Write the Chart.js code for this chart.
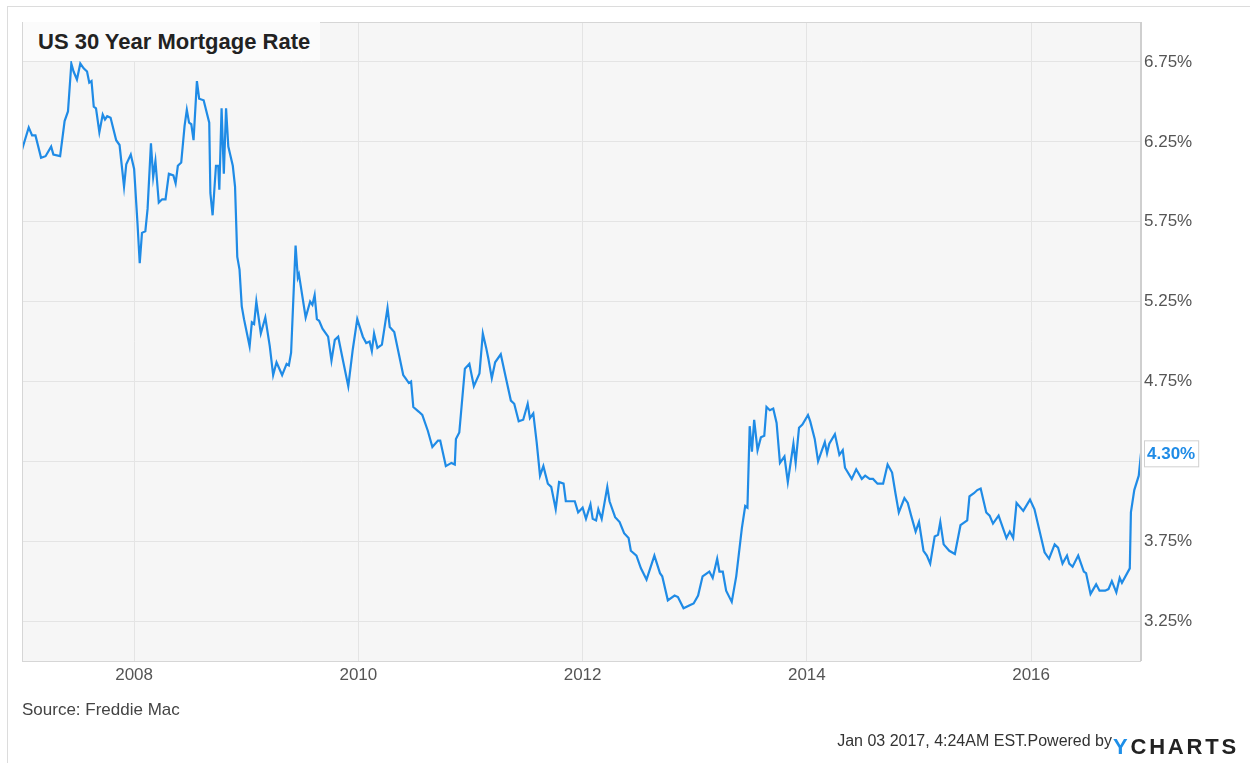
<!DOCTYPE html>
<html>
<head>
<meta charset="utf-8">
<script src="https://cdn.jsdelivr.net/npm/chart.js@4.4.1/dist/chart.umd.min.js"></script>
<style>
  body { margin: 0; background: #fff; font-family: "Liberation Sans", Arial, sans-serif; }
  #wrap { position: relative; width: 1250px; height: 763px; overflow: hidden; }
  #frame { position: absolute; left: 7px; top: 6px; right: 0; bottom: 0; border-top: 1px solid #dcdcdc; border-left: 1px solid #dcdcdc; }
  #myChart { position: absolute; left: 0; top: 0; }
  .title { position: absolute; left: 23px; top: 22px; width: 297px; height: 39px; background: #fbfbfb;
           font-weight: bold; font-size: 22px; color: #222; line-height: 39px; padding-left: 15px; box-sizing: border-box; }
  .source { position: absolute; left: 22px; top: 700px; font-size: 17px; color: #444; }
  .stamp { position: absolute; right: 138px; top: 732px; font-size: 16px; color: #333; }
  .logo { position: absolute; left: 1113px; top: 734px; font-size: 22px; font-weight: bold; color: #222; letter-spacing: 2.8px; }
  .logo span { color: #1e8fe8; }
</style>
</head>
<body>
<div id="wrap">
  <div id="frame"></div>
  <canvas id="myChart" width="1250" height="763"></canvas>
  <div class="title">US 30 Year Mortgage Rate</div>
  <div class="source">Source: Freddie Mac</div>
  <div class="stamp">Jan 03 2017, 4:24AM EST.Powered by</div>
  <div class="logo"><span>Y</span>CHARTS</div>
</div>
<script>
// weekly-ish readings, as decimal years
const dateYears = [
  2007.00, 2007.06, 2007.09, 2007.12, 2007.17, 2007.21, 2007.26, 2007.28, 2007.34, 2007.38,
  2007.41, 2007.44, 2007.46, 2007.49, 2007.52, 2007.55, 2007.58, 2007.60, 2007.62, 2007.64,
  2007.66, 2007.69, 2007.72, 2007.74, 2007.76, 2007.79, 2007.84, 2007.87, 2007.91, 2007.93,
  2007.97, 2008.00, 2008.03, 2008.05, 2008.07, 2008.10, 2008.12, 2008.15, 2008.17, 2008.19,
  2008.22, 2008.25, 2008.28, 2008.31, 2008.35, 2008.37, 2008.39, 2008.42, 2008.45, 2008.47,
  2008.49, 2008.51, 2008.53, 2008.56, 2008.58, 2008.62, 2008.67, 2008.68, 2008.70, 2008.73,
  2008.75, 2008.76, 2008.78, 2008.80, 2008.82, 2008.84, 2008.88, 2008.90, 2008.92, 2008.94,
  2008.96, 2008.98, 2009.03, 2009.05, 2009.07, 2009.09, 2009.13, 2009.17, 2009.21, 2009.24,
  2009.27, 2009.32, 2009.36, 2009.38, 2009.40, 2009.44, 2009.46, 2009.47, 2009.53, 2009.57,
  2009.59, 2009.61, 2009.63, 2009.65, 2009.68, 2009.73, 2009.76, 2009.79, 2009.82, 2009.86,
  2009.91, 2009.95, 2009.99, 2010.04, 2010.07, 2010.10, 2010.12, 2010.14, 2010.17, 2010.21,
  2010.26, 2010.28, 2010.32, 2010.40, 2010.42, 2010.45, 2010.47, 2010.49, 2010.54, 2010.57,
  2010.62, 2010.66, 2010.71, 2010.73, 2010.78, 2010.83, 2010.86, 2010.87, 2010.90, 2010.95,
  2010.99, 2011.03, 2011.08, 2011.11, 2011.14, 2011.16, 2011.19, 2011.22, 2011.27, 2011.31,
  2011.36, 2011.39, 2011.43, 2011.47, 2011.51, 2011.53, 2011.56, 2011.59, 2011.62, 2011.65,
  2011.69, 2011.72, 2011.76, 2011.79, 2011.83, 2011.85, 2011.90, 2011.93, 2011.96, 2012.00,
  2012.03, 2012.07, 2012.09, 2012.12, 2012.14, 2012.17, 2012.22, 2012.24, 2012.29, 2012.33,
  2012.37, 2012.41, 2012.43, 2012.48, 2012.52, 2012.57, 2012.64, 2012.69, 2012.71, 2012.76,
  2012.82, 2012.85, 2012.90, 2012.96, 2012.99, 2013.03, 2013.07, 2013.13, 2013.16, 2013.20,
  2013.22, 2013.25, 2013.28, 2013.33, 2013.37, 2013.42, 2013.45, 2013.47, 2013.49, 2013.51,
  2013.53, 2013.56, 2013.59, 2013.62, 2013.64, 2013.67, 2013.70, 2013.73, 2013.76, 2013.80,
  2013.83, 2013.88, 2013.90, 2013.93, 2013.96, 2014.01, 2014.03, 2014.07, 2014.10, 2014.13,
  2014.16, 2014.18, 2014.20, 2014.25, 2014.29, 2014.32, 2014.34, 2014.40, 2014.44, 2014.49,
  2014.52, 2014.56, 2014.59, 2014.63, 2014.68, 2014.72, 2014.76, 2014.79, 2014.82, 2014.87,
  2014.90, 2014.93, 2014.97, 2015.00, 2015.04, 2015.07, 2015.10, 2015.14, 2015.17, 2015.19,
  2015.22, 2015.27, 2015.32, 2015.37, 2015.43, 2015.45, 2015.49, 2015.52, 2015.55, 2015.60,
  2015.63, 2015.66, 2015.71, 2015.78, 2015.81, 2015.84, 2015.87, 2015.93, 2015.99, 2016.03,
  2016.08, 2016.12, 2016.16, 2016.21, 2016.24, 2016.28, 2016.32, 2016.34, 2016.37, 2016.42,
  2016.47, 2016.49, 2016.53, 2016.58, 2016.61, 2016.66, 2016.69, 2016.72, 2016.76, 2016.79,
  2016.81, 2016.88, 2016.89, 2016.92, 2016.96, 2016.98
];

const rates = [
  6.20, 6.34, 6.29, 6.29, 6.15, 6.16, 6.22, 6.17, 6.16, 6.38,
  6.44, 6.74, 6.69, 6.64, 6.74, 6.71, 6.69, 6.62, 6.63, 6.47,
  6.46, 6.31, 6.42, 6.39, 6.41, 6.40, 6.26, 6.23, 5.97, 6.11,
  6.17, 6.08, 5.74, 5.49, 5.68, 5.69, 5.83, 6.24, 6.03, 6.13,
  5.87, 5.89, 5.89, 6.05, 6.04, 5.99, 6.10, 6.12, 6.35, 6.45,
  6.37, 6.36, 6.26, 6.63, 6.52, 6.51, 6.37, 5.93, 5.79, 6.10,
  6.10, 5.95, 6.46, 6.05, 6.46, 6.22, 6.10, 5.97, 5.53, 5.45,
  5.22, 5.14, 4.97, 5.12, 5.11, 5.25, 5.05, 5.15, 4.97, 4.79,
  4.87, 4.79, 4.86, 4.85, 4.93, 5.60, 5.40, 5.42, 5.15, 5.25,
  5.23, 5.29, 5.14, 5.13, 5.08, 5.03, 4.88, 5.01, 5.03, 4.89,
  4.72, 4.95, 5.14, 5.03, 4.99, 5.00, 4.94, 5.05, 4.96, 4.98,
  5.21, 5.09, 5.06, 4.79, 4.77, 4.74, 4.75, 4.59, 4.56, 4.54,
  4.44, 4.34, 4.38, 4.38, 4.22, 4.24, 4.23, 4.39, 4.43, 4.83,
  4.86, 4.72, 4.80, 5.05, 4.96, 4.89, 4.77, 4.87, 4.92, 4.79,
  4.63, 4.61, 4.50, 4.51, 4.61, 4.52, 4.55, 4.37, 4.16, 4.22,
  4.11, 4.09, 3.95, 4.12, 4.11, 4.00, 4.00, 4.00, 3.93, 3.96,
  3.89, 3.98, 3.89, 3.88, 3.95, 3.89, 4.09, 4.00, 3.90, 3.87,
  3.80, 3.77, 3.69, 3.66, 3.58, 3.51, 3.66, 3.55, 3.53, 3.38,
  3.41, 3.40, 3.33, 3.35, 3.36, 3.41, 3.53, 3.56, 3.52, 3.64,
  3.56, 3.56, 3.44, 3.37, 3.53, 3.83, 3.97, 3.96, 4.47, 4.31,
  4.51, 4.32, 4.40, 4.41, 4.59, 4.57, 4.58, 4.49, 4.24, 4.28,
  4.12, 4.36, 4.24, 4.46, 4.48, 4.54, 4.50, 4.39, 4.25, 4.31,
  4.37, 4.30, 4.36, 4.42, 4.29, 4.32, 4.21, 4.14, 4.20, 4.14,
  4.16, 4.14, 4.14, 4.11, 4.11, 4.23, 4.18, 4.05, 3.93, 4.02,
  3.99, 3.91, 3.81, 3.87, 3.69, 3.66, 3.61, 3.78, 3.79, 3.87,
  3.73, 3.69, 3.67, 3.85, 3.88, 4.03, 4.05, 4.07, 4.08, 3.93,
  3.91, 3.86, 3.91, 3.77, 3.81, 3.77, 3.99, 3.94, 4.01, 3.95,
  3.80, 3.68, 3.64, 3.73, 3.71, 3.61, 3.66, 3.61, 3.59, 3.66,
  3.56, 3.55, 3.42, 3.48, 3.44, 3.44, 3.45, 3.50, 3.43, 3.52,
  3.49, 3.58, 3.93, 4.07, 4.16, 4.30
];

const yearTicks = [2008, 2010, 2012, 2014, 2016];
const rateTicks = [3.25, 3.75, 4.25, 4.75, 5.25, 5.75, 6.25, 6.75];

const lineColor = '#1f8be6';

const points = dateYears.map((x, i) => ({ x: x, y: rates[i] }));

// plot background + border
const plotBg = {
  id: 'plotBg',
  beforeDraw(chart) {
    const { ctx, chartArea: a } = chart;
    ctx.save();
    ctx.fillStyle = '#f6f6f6';
    ctx.fillRect(a.left, a.top, a.right - a.left, a.bottom - a.top);
    ctx.restore();
  },
  afterDatasetsDraw(chart) {
    const { ctx, chartArea: a } = chart;
    ctx.save();
    ctx.strokeStyle = '#d6d6d6';
    ctx.lineWidth = 1;
    ctx.strokeRect(a.left + 0.5, a.top + 0.5, a.right - a.left - 1, a.bottom - a.top);
    ctx.strokeStyle = '#cfcfcf';
    ctx.lineWidth = 2;
    ctx.beginPath();
    ctx.moveTo(a.right, a.top);
    ctx.lineTo(a.right, a.bottom);
    ctx.stroke();
    ctx.restore();
  }
};

// last value tag on the right axis
const lastTag = {
  id: 'lastTag',
  afterDraw(chart) {
    const { ctx, chartArea: a } = chart;
    const last = rates[rates.length - 1];
    const y = chart.scales.y.getPixelForValue(last);
    const txt = last.toFixed(2) + '%';
    ctx.save();
    ctx.font = 'bold 17px "Liberation Sans", Arial, sans-serif';
    const w = ctx.measureText(txt).width + 6;
    ctx.fillStyle = '#ffffff';
    ctx.fillRect(a.right + 3, y - 13, w, 27);
    ctx.strokeStyle = '#d0d0d0';
    ctx.lineWidth = 1;
    ctx.strokeRect(a.right + 3.5, y - 12.5, w, 26);
    ctx.fillStyle = lineColor;
    ctx.textBaseline = 'middle';
    ctx.fillText(txt, a.right + 6, y + 1);
    ctx.restore();
  }
};

const config = {
  type: 'line',
  data: {
    datasets: [{
      data: points,
      borderColor: lineColor,
      borderWidth: 2.2,
      pointRadius: 0,
      tension: 0,
      fill: false
    }]
  },
  options: {
    responsive: false,
    animation: false,
    layout: { padding: { left: 22, top: 22, right: 0, bottom: 72 } },
    plugins: { legend: { display: false }, tooltip: { enabled: false } },
    scales: {
      x: {
        type: 'linear',
        min: 2007.0,
        max: 2016.98,
        afterBuildTicks: (s) => { s.ticks = yearTicks.map(v => ({ value: v })); },
        afterFit: (s) => { s.height = 30; },
        grid: { color: '#e4e4e4', drawTicks: false },
        border: { display: false },
        ticks: {
          padding: 4,
          color: '#555',
          font: { family: '"Liberation Sans", Arial, sans-serif', size: 17 },
          callback: (v) => String(v)
        }
      },
      y: {
        position: 'right',
        min: 3.0,
        max: 7.0,
        afterBuildTicks: (s) => { s.ticks = rateTicks.map(v => ({ value: v })); },
        afterFit: (s) => { s.width = 109; },
        grid: { color: '#e4e4e4', drawTicks: false },
        border: { display: false },
        ticks: {
          padding: 3,
          color: '#555',
          font: { family: '"Liberation Sans", Arial, sans-serif', size: 17 },
          callback: (v) => v.toFixed(2) + '%'
        }
      }
    }
  },
  plugins: [plotBg, lastTag]
};

const myChart = new Chart(document.getElementById('myChart'), config);
</script>
</body>
</html>
